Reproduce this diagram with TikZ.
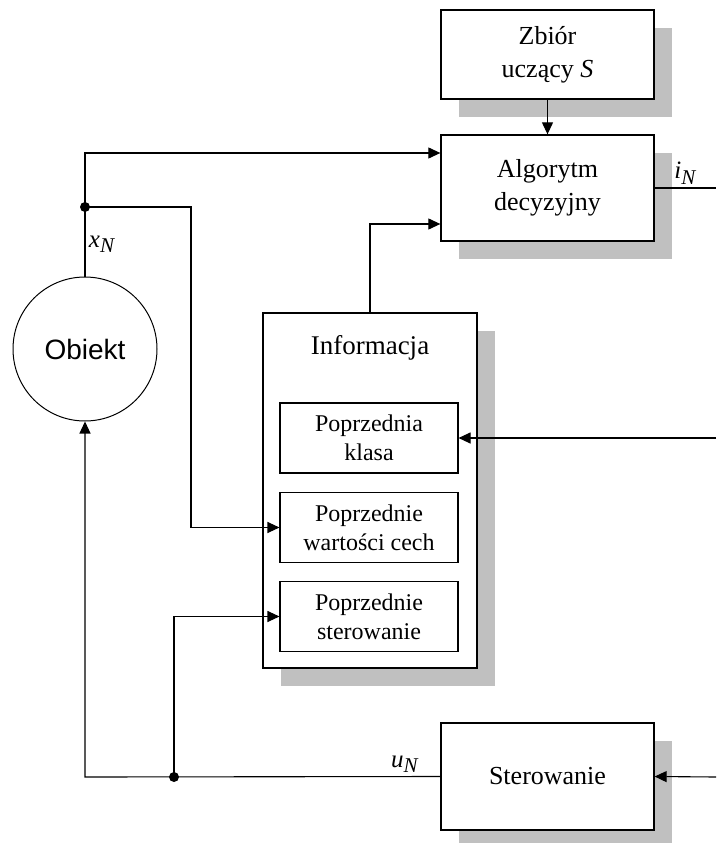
\documentclass[tikz,border=0pt]{standalone}
\usepackage{fontspec}
\setmainfont{Liberation Serif}
\newfontfamily\arialfont{Liberation Sans}
\usetikzlibrary{arrows.meta,shadows}
\definecolor{shadowgray}{RGB}{192,192,192}
\newcommand{\sig}[2]{\textit{#1}\raisebox{-0.45ex}{\fontsize{21}{21}\selectfont\textit{#2}}}

\begin{document}
\begin{tikzpicture}[x=1pt, y=-1pt, >={Triangle[length=12pt, width=11pt]}]
	\tikzstyle{block}    = [rectangle, draw=black, line width=1.3pt, fill=white, align=center, inner sep=0pt, font=\fontsize{26}{33}\selectfont, drop shadow={shadow xshift=18pt, shadow yshift=-18pt, fill=shadowgray, opacity=1}]
	\tikzstyle{memory}   = [rectangle, draw=black, line width=1.1pt, fill=white, align=center, inner sep=0pt, minimum width=178pt, minimum height=70pt, font=\fontsize{24}{29}\selectfont]
	\tikzstyle{junction} = [circle, fill=black, minimum size=10pt, inner sep=0pt]
	\tikzstyle{signal}   = [line width=1.1pt]
	\tikzstyle{siglabel} = [font=\fontsize{25}{25}\selectfont]

	\useasboundingbox (0,0) rectangle (716,843);

	% blocks
	\node[block, minimum width=213pt, minimum height=89pt]  (zbior)      at (547.5,54.5)  {Zbiór\\uczący \textit{S}};
	\node[block, minimum width=213pt, minimum height=106pt] (alg)        at (547.5,188)   {Algorytm\\decyzyjny};
	\node[block, minimum width=214pt, minimum height=355pt] (info)       at (370,490.5)   {};
	\node[block, minimum width=213pt, minimum height=107pt] (sterowanie) at (547.5,776.5) {Sterowanie};
	\node[font=\fontsize{27}{27}\selectfont] (infotitle) at (370,348) {Informacja};
	\node[circle, draw=black, line width=1pt, minimum size=144pt, inner sep=0pt, font=\arialfont\fontsize{28}{28}\selectfont] (obiekt) at (85,349) {Obiekt};

	\foreach \name/\y/\text in {klasa/438/{Poprzednia\\klasa}, cechy/527.5/{Poprzednie\\wartości cech}, poster/616.5/{Poprzednie\\sterowanie}}
		\node[memory] (\name) at (369,\y) {\text};

	% junctions and free ends
	\node[junction] (xdot) at (85,207) {};
	\node[junction] (udot) at (174,777) {};
	\coordinate (xbend) at (191,207);
	\coordinate (ucorner) at (85,777);
	\coordinate (iout) at (716,188);
	\coordinate (kin) at (716,438);
	\coordinate (sin) at (716,777);

	% signals
	\draw[signal, ->] (zbior) -- (alg);
	\draw[signal, ->] (obiekt.north) |- ([yshift=35pt]alg.west);
	\draw[signal, ->] (info.north) |- ([yshift=-36pt]alg.west);
	\draw[signal, ->] (xdot.center) -- (xbend) |- (cechy.west);
	\draw[signal, ->] (udot.center) |- (poster.west);
	\draw[signal, ->] (kin) -- (klasa.east);
	\draw[signal, ->] (sin) -- (sterowanie.east);
	\draw[signal] (alg.east) -- node[siglabel, above] {\sig{i}{N}} (iout);
	\draw[signal, ->] (sterowanie.west) -- node[siglabel, pos=0.1, above] {\sig{u}{N}} (ucorner) -- (obiekt.south);
	\node[siglabel] (xlabel) at (102,244) {\sig{x}{N}};
\end{tikzpicture}
\end{document}
